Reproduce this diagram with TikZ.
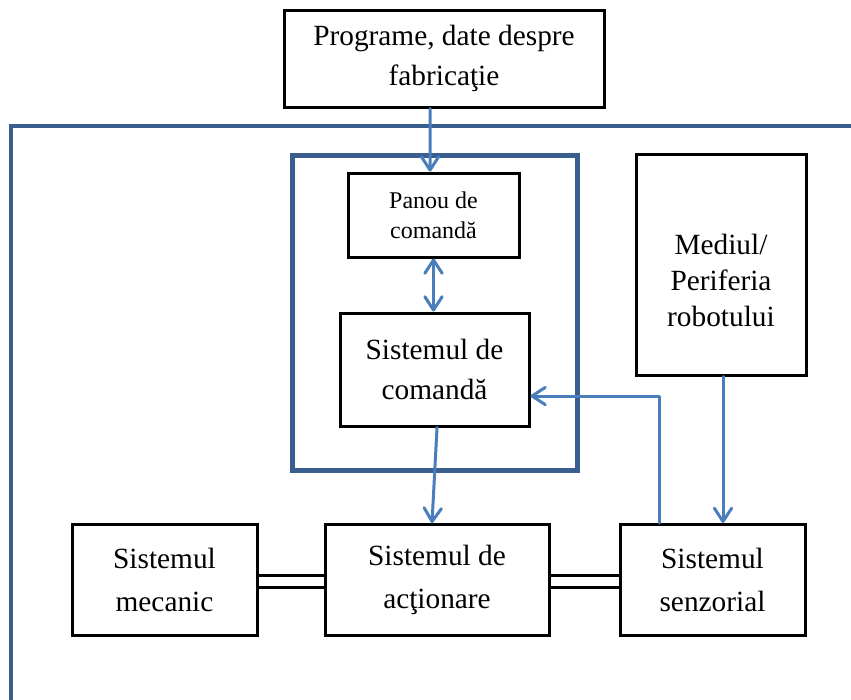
\documentclass[tikz,border=0pt]{standalone}
\usepackage{fontspec}
\setmainfont{Liberation Serif}
\usetikzlibrary{arrows.meta}
\definecolor{frameblue}{HTML}{3A5F8E}
\definecolor{arrowblue}{HTML}{4A7EBB}
\begin{document}
\begin{tikzpicture}[x=0.75pt,y=-0.75pt,
  box/.style={draw=black,line width=2.25pt,inner sep=0pt,align=center,font=\fontsize{22pt}{30pt}\selectfont},
  smallbox/.style={box,font=\fontsize{18pt}{22.5pt}\selectfont},
  conn/.style={draw=arrowblue,line width=2.25pt,line cap=round,line join=round},
  arr/.style={conn,-{Straight Barb[length=10pt,width=13pt,round]}},
  darr/.style={conn,{Straight Barb[length=10pt,width=13pt,round]}-{Straight Barb[length=10pt,width=13pt,round]}},
  frame/.style={draw=frameblue,line width=2.6pt},
  dbl/.style={draw=black,line width=2.25pt}]
\useasboundingbox (0,0) rectangle (851,700);
\fill[white] (0,0) rectangle (851,700);
% outer frame
\draw[frame] (11,700) -- (11,126) -- (851,126);
% inner thick frame
\draw[frame,line width=3.75pt] (292,155) rectangle (577,470);
% nodes
\node[box,minimum width=240pt,minimum height=72.75pt] (top) at (444,58.5) {Programe, date despre\\fabricaţie};
\node[smallbox,minimum width=128.25pt,minimum height=63pt] (panou) at (433.5,215) {Panou de\\comandă};
\node[box,minimum width=141.75pt,minimum height=84.75pt] (comanda) at (434.5,369.5) {Sistemul de\\comandă};
\node[box,minimum width=127.5pt,minimum height=165.75pt,
  label={[align=center,inner sep=0pt,yshift=-12pt,font=\fontsize{22pt}{27pt}\selectfont]center:Mediul/\\Periferia\\robotului}] (mediul) at (721,264.5) {};
\node[box,minimum width=138.75pt,minimum height=83.25pt,font=\fontsize{22pt}{32pt}\selectfont] (mecanic) at (164.5,580) {Sistemul\\mecanic};
\node[box,minimum width=168pt,minimum height=83.25pt,font=\fontsize{22pt}{32pt}\selectfont] (actionare) at (437,580) {Sistemul de\\acţionare};
\node[box,minimum width=138.75pt,minimum height=83.25pt,font=\fontsize{22pt}{32pt}\selectfont] (senzorial) at (712.5,580) {Sistemul\\senzorial};
% double connections
\draw[dbl] ([yshift=3.75pt]mecanic.east) -- ([yshift=3.75pt]actionare.west);
\draw[dbl] ([yshift=-5.6pt]mecanic.east) -- ([yshift=-5.6pt]actionare.west);
\draw[dbl] ([yshift=3.75pt]actionare.east) -- ([yshift=3.75pt]senzorial.west);
\draw[dbl] ([yshift=-5.6pt]actionare.east) -- ([yshift=-5.6pt]senzorial.west);
% arrows
\draw[arr] ([xshift=-10.5pt]top.south) -- ([xshift=-2.6pt]panou.north);
\draw[darr] (panou.south) -- (panou.south |- comanda.north);
\draw[arr] ([xshift=1.9pt]comanda.south) -- ([xshift=-3.75pt]actionare.north);
\draw[arr] ([xshift=-39.4pt]senzorial.north) |- ([yshift=-19.9pt]comanda.east);
\draw[arr] ([xshift=1.5pt]mediul.south) -- ([xshift=1.5pt]mediul.south |- senzorial.north);
\end{tikzpicture}
\end{document}
